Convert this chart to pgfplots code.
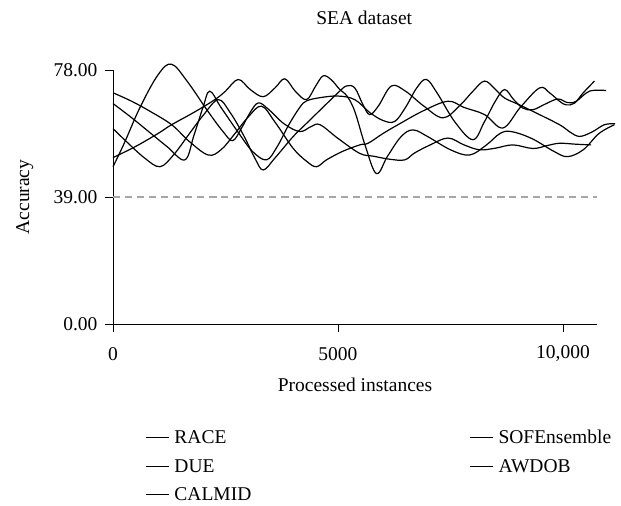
\documentclass[border=0pt]{standalone}
\usepackage{pgfplots}
\pgfplotsset{compat=1.18}
\usepackage{fontspec}
\setmainfont{Liberation Serif}
\begin{document}
\begin{tikzpicture}
\useasboundingbox (-113bp,-182bp) rectangle (508bp,324bp);
\begin{axis}[
  scale only axis, width=484bp, height=254bp,
  xmin=0, xmax=10756, ymin=0, ymax=78,
  axis x line=bottom, axis y line=left,
  axis line style={-, line width=0.9bp},
  clip=false,
  scaled x ticks=false,
  xtick={0,5000,10000}, xticklabels={0,5000,{10,000}},
  ytick={0,39,78}, yticklabels={0.00,39.00,78.00},
  tick align=outside, major tick length=8bp,
  tick style={line width=0.9bp, black},
  ticklabel style={font=\fontsize{19.5bp}{23bp}\selectfont},
  xticklabel style={anchor=center, yshift=-22bp},
  yticklabel style={anchor=east, xshift=-4bp},
  title={SEA dataset},
  title style={font=\fontsize{19.5bp}{23bp}\selectfont, at={(axis description cs:0.519,1)}, anchor=base, yshift=40bp},
  xlabel={Processed instances},
  xlabel style={font=\fontsize{19.5bp}{23bp}\selectfont, at={(axis description cs:0.5,0)}, anchor=center, yshift=-61bp},
  ylabel={Accuracy},
  ylabel style={font=\fontsize{19.5bp}{23bp}\selectfont, at={(axis description cs:-0.182,0.5)}, anchor=center, rotate=0},
  cycle list={{black}},
  no markers,
  legend columns=2,
  legend cell align=left,
  legend image code/.code={\draw[black, line width=1.2bp] (0bp,0bp) -- (23bp,0bp);},
  legend style={draw=none, fill=none, font=\fontsize{19.5bp}{23bp}\selectfont,
    at={(axis description cs:0.06,0)}, anchor=north west, yshift=-102bp,
    row sep=10bp, nodes={inner xsep=5bp},
    /tikz/every even column/.append style={column sep=213bp}},
  every axis plot post/.append style={line width=1.2bp, smooth, tension=0.6},
]
\addplot[gray!70, dash pattern=on 7bp off 5bp, forget plot, sharp plot] coordinates {(0,39) (10756,39)};
% RACE
\addplot coordinates {(0,48.3) (250,55.5) (600,66.5) (1000,76.5) (1300,79.8) (1650,74.5) (2100,65.5) (2450,59) (2660,56.3) (2850,60) (3050,65) (3230,67.9) (3450,66) (3800,61.5) (4150,59.1) (4400,60.6) (4600,61.2) (5000,57) (5483,52.4) (5800,51.5) (6150,50.6) (6482,50.4) (6700,52.5) (7050,55) (7444,57.1) (7800,55) (8147,53.5) (8500,54) (8887,55) (9331,53.9) (9650,54.8) (9923,55.5) (10300,55.2) (10627,55)};
\addlegendentry{RACE}
% SOFEnsemble
\addplot coordinates {(0,67.7) (400,63.5) (800,59) (1200,54.5) (1598,50.4) (1800,58) (2000,66.5) (2150,71.5) (2400,66.5) (2800,58.5) (3100,53) (3412,50.4) (3650,54.5) (3900,61) (4150,66.5) (4300,68.5) (4600,69.5) (5000,70) (5373,68.9) (5700,65) (6000,62.5) (6260,62.2) (6500,66.5) (6750,72.5) (6964,75.1) (7200,71) (7600,62) (7999,56.6) (8250,62) (8500,68.5) (8702,72) (8900,69) (9109,66.3) (9331,65.8) (9600,67.5) (9886,69.1) (10100,68) (10294,68.4) (10590,71.5) (10960,71.7)};
\addlegendentry{SOFEnsemble}
% DUE
\addplot coordinates {(0,71) (400,68.5) (800,65.5) (1303,61.2) (1700,56) (2116,51.9) (2400,53.5) (2700,58.3) (3000,63.5) (3300,66.9) (3600,62) (4000,54) (4300,50) (4522,48.3) (4744,50.4) (5100,53) (5483,55) (5668,55.5) (6000,58.5) (6334,61.2) (6900,65.5) (7444,68.4) (7800,66.5) (8258,64.3) (8665,60.2) (9050,66.5) (9479,72.5) (9701,71) (9923,68.4) (10070,67.3) (10254,67.8) (10450,71) (10700,74.6)};
\addlegendentry{DUE}
% AWDOB
\addplot coordinates {(0,51.1) (500,54.5) (1000,58.5) (1303,61.2) (1800,65) (2264,68.9) (2500,71.5) (2782,75.1) (3050,72) (3337,69.8) (3600,72.5) (3818,75.3) (4050,71.5) (4300,68.9) (4500,73) (4670,76.2) (4850,75) (5040,72) (5200,70) (5373,65.3) (5600,55) (5853,46.2) (6100,51.5) (6400,57.5) (6667,59.6) (7000,57.5) (7500,53.5) (7925,51.9) (8300,55) (8600,58.5) (8850,59.1) (9300,57) (9800,53) (10100,51.4) (10450,53.5) (10800,58.5) (11144,61.2)};
\addlegendentry{AWDOB}
% CALMID
\addplot coordinates {(0,60) (300,56) (700,51) (1043,48.3) (1350,52) (1700,58.5) (2000,64) (2338,68.9) (2600,65) (2900,58) (3150,51) (3337,47.3) (3600,51) (4000,57.5) (4300,61.6) (4700,67) (5000,71) (5188,73.1) (5373,72.5) (5550,67.5) (5705,64.3) (5900,67) (6187,73.1) (6500,71.5) (6900,67) (7333,63.3) (7700,67) (8000,71.5) (8258,74.6) (8500,72) (8702,69.4) (9000,67.5) (9331,65.3) (9923,61.2) (10150,59) (10369,57.6) (10650,59) (10920,61.2) (11160,61.5)};
\addlegendentry{CALMID}
\end{axis}
\end{tikzpicture}
\end{document}
